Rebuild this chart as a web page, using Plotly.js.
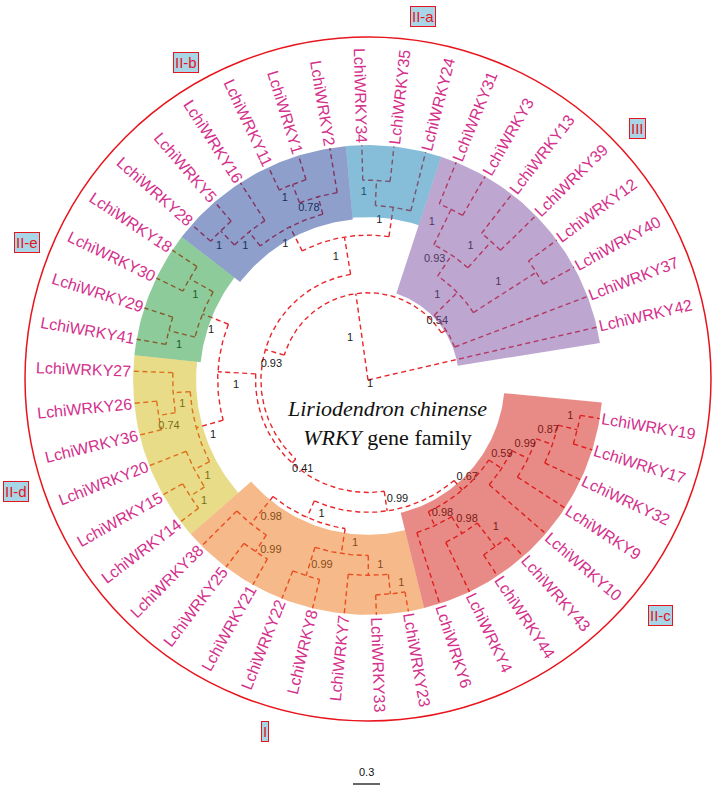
<!DOCTYPE html>
<html>
<head>
<meta charset="utf-8">
<script src="https://cdn.plot.ly/plotly-3.0.1.min.js"></script>
<style>html,body{margin:0;padding:0;background:#fff}#chart{width:712px;height:786px}</style>
</head>
<body>
<div id="chart"></div>
<script>
// ---------------- DATA ----------------
// Leaves in counter-clockwise order (starting just above the open gap on the right)
const leafNames = ['LchiWRKY42','LchiWRKY37','LchiWRKY40','LchiWRKY12','LchiWRKY39','LchiWRKY13','LchiWRKY3','LchiWRKY31',
  'LchiWRKY24','LchiWRKY35','LchiWRKY34','LchiWRKY2','LchiWRKY1','LchiWRKY11','LchiWRKY16','LchiWRKY5','LchiWRKY28',
  'LchiWRKY18','LchiWRKY30','LchiWRKY29','LchiWRKY41','LchiWRKY27','LchiWRKY26','LchiWRKY36','LchiWRKY20','LchiWRKY15',
  'LchiWRKY14','LchiWRKY38','LchiWRKY25','LchiWRKY21','LchiWRKY22','LchiWRKY8','LchiWRKY7','LchiWRKY33','LchiWRKY23',
  'LchiWRKY6','LchiWRKY4','LchiWRKY44','LchiWRKY43','LchiWRKY10','LchiWRKY9','LchiWRKY32','LchiWRKY17','LchiWRKY19'];

// Tree topology (Newick clades: bootstrap support : branch length; tips aligned)
const cladeIIc = "((LchiWRKY6,(LchiWRKY4,(LchiWRKY44,LchiWRKY43)1:0.33)0.98:0.22)0.98:0.17,(LchiWRKY10,(LchiWRKY9,(LchiWRKY32,(LchiWRKY17,LchiWRKY19)1:0.22)0.87:0.19)0.99:0.2)0.59:0.17)0.67:0.14";
const cladeI   = "((LchiWRKY38,(LchiWRKY25,LchiWRKY21)0.99:0.22)0.98:0.39,((LchiWRKY22,LchiWRKY8)0.99:0.33,(LchiWRKY7,(LchiWRKY33,LchiWRKY23)1:0.22)1:0.22)1:0.28)1:0.2";
const cladeIId = "((LchiWRKY27,(LchiWRKY26,LchiWRKY36)0.74:0.19)1:0.19,(LchiWRKY20,(LchiWRKY15,LchiWRKY14)1:0.19)1:0.19)1:0.31";
const cladeIIe = "((LchiWRKY18,LchiWRKY30)1:0.3,(LchiWRKY29,LchiWRKY41)1:0.3)1:0.31";
const cladeIIa = "(LchiWRKY24,(LchiWRKY35,LchiWRKY34)1:0.28)1:0.33";
const cladeIIb = "((LchiWRKY2,(LchiWRKY1,LchiWRKY11)1:0.22)0.78:0.2,(LchiWRKY16,(LchiWRKY5,LchiWRKY28)1:0.22)1:0.2)1:0.3";
const cladeIII = "(LchiWRKY37,((LchiWRKY40,LchiWRKY12)1:0.83,((LchiWRKY39,LchiWRKY13)1:0.39,(LchiWRKY3,LchiWRKY31)1:0.44)0.93:0.28)1:0.36)0.54:0.06";
const treeNewick =
  "(LchiWRKY42,(" + cladeIII + ",((" + cladeIIa + "," + cladeIIb + ")1:0.42,((" + cladeIIe + "," + cladeIId + ")1:0.42,(" +
  cladeI + "," + cladeIIc + ")0.99:0.22)0.41:0.06)0.93:0.22)1:0.97)1;";
const tipDepth = 2.61;          // aligned tips (substitution units)

// Subfamily groups
const groupNames      = ['III','II-a','II-b','II-e','II-d','I','II-c'];
const groupFirstLeaf  = ['LchiWRKY42','LchiWRKY24','LchiWRKY2','LchiWRKY18','LchiWRKY27','LchiWRKY38','LchiWRKY6'];
const groupLastLeaf   = ['LchiWRKY31','LchiWRKY34','LchiWRKY28','LchiWRKY41','LchiWRKY14','LchiWRKY23','LchiWRKY19'];
const groupInnerDepth = [1.01, 1.81, 1.79, 1.87, 1.91, 1.72, 1.52];

const scaleBarValue = 0.3;
const titleLines = ['<i>Liriodendron chinense</i>', '<i>WRKY</i> gene family'];

// ---------------- STYLE / GEOMETRY ----------------
const cx = 368, cy = 380;        // centre of the circular tree (plot units = px)
const pxPerUnit = 90;
const leafStartDeg = 13, leafStepDeg = 7.85;
const labelR = 237;
const lineColor = '#e8262b';
const labelColor = '#d4308c';
const groupFill = ['rgba(123,77,159,0.5)','rgba(13,125,181,0.5)','rgba(27,63,149,0.5)','rgba(29,151,53,0.5)',
                   'rgba(209,185,17,0.5)','rgba(235,115,21,0.5)','rgba(209,23,15,0.5)'];
const groupLabelPos = {'III':[637,128],'II-a':[423,16],'II-b':[186,62],'II-e':[27,242],'II-d':[16,491],'II-c':[660,615],'I':[265,731]};

// ---------------- PARSE ----------------
function parseNewick(str){
  const s = str.replace(/\s+/g,'');
  let i = 0;
  function node(){
    const n = {children:[]};
    if (s[i] === '('){
      i++;
      n.children.push(node());
      while (s[i] === ','){ i++; n.children.push(node()); }
      i++;
    }
    let lab = '';
    while (i < s.length && !':,();'.includes(s[i])) lab += s[i++];
    n.label = lab;
    if (s[i] === ':'){ i++; let num=''; while (i < s.length && !',();'.includes(s[i])) num += s[i++]; n.len = parseFloat(num); }
    return n;
  }
  return node();
}
const root = parseNewick(treeNewick);

function pt(r, a){ const t = a*Math.PI/180; return [cx + r*Math.cos(t), cy - r*Math.sin(t)]; }

const leafAngle = {};
leafNames.forEach((nm,k)=>{ leafAngle[nm] = leafStartDeg + k*leafStepDeg; });

function place(n, depth){
  n.depth = depth;
  if (!n.children.length){ n.angle = leafAngle[n.label]; n.r = tipDepth*pxPerUnit; return; }
  n.r = depth*pxPerUnit;
  n.children.forEach(c => place(c, depth + (c.children.length ? (c.len||0) : 0)));
  n.angle = (n.children[0].angle + n.children[n.children.length-1].angle)/2;
}
place(root, 0);

// ---------------- BUILD MARKS ----------------
const lx = [], ly = [];
const bx = [], by = [], bt = [];
function addRadial(r0, r1, a){ const p = pt(r0,a), q = pt(r1,a); lx.push(p[0], q[0], null); ly.push(p[1], q[1], null); }
function addArc(r, a0, a1){
  if (r <= 0) return;
  const n = Math.max(2, Math.ceil(Math.abs(a1-a0)));
  for (let k=0;k<=n;k++){ const p = pt(r, a0 + (a1-a0)*k/n); lx.push(p[0]); ly.push(p[1]); }
  lx.push(null); ly.push(null);
}
function draw(n, parent){
  if (n.children.length){
    addArc(n.r, n.children[0].angle, n.children[n.children.length-1].angle);
    n.children.forEach(c => { addRadial(n.r, c.r, c.angle); draw(c, n); });
    if (n.label){
      if (!parent){ bx.push(cx+2); by.push(cy+4); bt.push(n.label); }
      else {
        const rm = (parent.r + n.r)/2;
        const p = pt(rm, n.angle);
        const oa = (n.angle + 90)*Math.PI/180;
        bx.push(p[0] + 12*Math.cos(oa)); by.push(p[1] - 12*Math.sin(oa)); bt.push(n.label);
      }
    }
  }
}
draw(root, null);

const traces = [];
traces.push({type:'scatter', mode:'lines', x:lx, y:ly, hoverinfo:'skip',
  line:{color:lineColor, width:1.4, dash:'5px,3.5px'}});
traces.push({type:'scatter', mode:'text', x:bx, y:by, text:bt, hoverinfo:'skip',
  textfont:{family:'Liberation Sans, Arial, sans-serif', size:11, color:'#1a1a1a'}});

// sector shading drawn translucently over the tree
const tipR = tipDepth*pxPerUnit;
groupNames.forEach((g, gi) => {
  const a0 = leafAngle[groupFirstLeaf[gi]] - leafStepDeg/2;
  const a1 = leafAngle[groupLastLeaf[gi]] + leafStepDeg/2;
  const rIn = groupInnerDepth[gi]*pxPerUnit;
  const xs = [], ys = [];
  const n = Math.ceil(a1-a0);
  for (let k=0;k<=n;k++){ const p = pt(tipR, a0+(a1-a0)*k/n); xs.push(p[0]); ys.push(p[1]); }
  for (let k=n;k>=0;k--){ const p = pt(rIn, a0+(a1-a0)*k/n); xs.push(p[0]); ys.push(p[1]); }
  xs.push(xs[0]); ys.push(ys[0]);
  traces.push({type:'scatter', mode:'lines', x:xs, y:ys, fill:'toself', fillcolor:groupFill[gi],
    line:{width:0, color:'rgba(0,0,0,0)'}, hoverinfo:'skip'});
});

// scale bar
const sbX0 = 353, sbY = 784;
traces.push({type:'scatter', mode:'lines', x:[sbX0, sbX0 + scaleBarValue*pxPerUnit], y:[sbY, sbY],
  line:{color:'#000', width:1.2}, hoverinfo:'skip'});

// ---------------- ANNOTATIONS ----------------
const annotations = [];
const ctx = document.createElement('canvas').getContext('2d');
ctx.font = '16px "Liberation Sans", Arial, sans-serif';
leafNames.forEach(nm => {
  const a = leafAngle[nm];
  const w = ctx.measureText(nm).width;
  const p = pt(labelR + w/2, a);
  let ta = Math.cos(a*Math.PI/180) >= 0 ? -a : 180 - a;
  while (ta > 180) ta -= 360; while (ta < -180) ta += 360;
  annotations.push({x:p[0], y:p[1], xref:'x', yref:'y', text:nm, showarrow:false, textangle:ta,
    xanchor:'center', yanchor:'middle', font:{family:'Liberation Sans, Arial, sans-serif', size:16, color:labelColor}});
});
groupNames.forEach(g => {
  const p = groupLabelPos[g];
  annotations.push({x:p[0], y:p[1], xref:'x', yref:'y', text:g, showarrow:false, xanchor:'center', yanchor:'middle',
    font:{family:'Liberation Sans, Arial, sans-serif', size:15, color:'#e3151d'},
    bgcolor:'#a9d6e6', bordercolor:'#e3151d', borderwidth:1, borderpad:1});
});
annotations.push({x:387, y:423, xref:'x', yref:'y', text:titleLines.join('<br>'), showarrow:false,
  xanchor:'center', yanchor:'middle', align:'center',
  font:{family:'Liberation Serif, Times New Roman, serif', size:22, color:'#111'}});
annotations.push({x:sbX0 + scaleBarValue*pxPerUnit/2, y:sbY - 4, xref:'x', yref:'y', text:String(scaleBarValue),
  showarrow:false, xanchor:'center', yanchor:'bottom', font:{family:'Liberation Sans, Arial', size:11, color:'#111'}});

const layout = {
  width:712, height:786, margin:{l:0,r:0,t:0,b:0},
  paper_bgcolor:'#fff', plot_bgcolor:'#fff', showlegend:false,
  xaxis:{range:[0,712], visible:false, fixedrange:true},
  yaxis:{range:[786,0], visible:false, fixedrange:true},
  shapes:[{type:'circle', xref:'x', yref:'y', x0:368-343, x1:368+343, y0:379-342, y1:379+342,
    line:{color:'#e8141c', width:1.5}, layer:'below'}],
  annotations: annotations
};
Plotly.newPlot('chart', traces, layout, {displayModeBar:false, staticPlot:true});
</script>
</body>
</html>
